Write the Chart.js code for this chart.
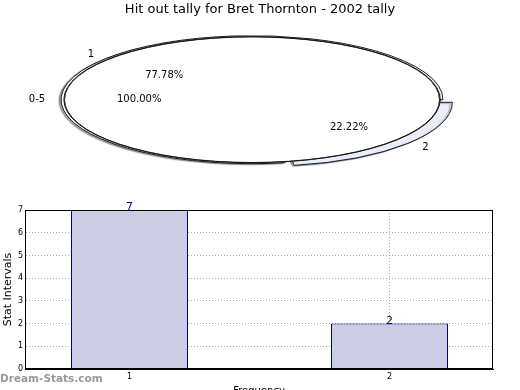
<!DOCTYPE html>
<html><head><meta charset="utf-8">
<script src="https://cdn.jsdelivr.net/npm/chart.js@4/dist/chart.umd.min.js"></script>
<style>
html,body{margin:0;padding:0;background:#fff;overflow:hidden;width:520px;height:390px}
#pie{position:absolute;left:0;top:0}
#bar{position:absolute;left:0;top:200px}
#wm{position:absolute;left:0;top:372px;font:bold 10.5px "DejaVu Sans";color:#999;white-space:nowrap}
</style></head><body>
<canvas id="pie" width="520" height="200"></canvas>
<canvas id="bar" width="520" height="200"></canvas>
<div id="wm">Dream-Stats.com</div>
<script>
// ---- data ----
const chartTitle = 'Hit out tally for Bret Thornton - 2002 tally';
const outerLabels = ['1', '2'];
const outerValues = [7, 2];
const innerLabels = ['0-5'];
const innerValues = [9];
const barCategories = [1, 2];
const barValues = [7, 2];
const xTickLabels = ['1', '2'];
const yTicks = [0, 1, 2, 3, 4, 5, 6, 7];
const xAxisTitle = 'Frequency';
const yAxisTitle = 'Stat Intervals';

// ---- pie (squashed) ----
const SQUASH = 0.335;
const FONT = 'DejaVu Sans';

const squashPlugin = {
  id: 'squash',
  beforeDatasetsDraw(chart) {
    const a = chart.getDatasetMeta(0).data[0];
    const ctx = chart.ctx;
    ctx.save();
    const base = ctx.getTransform();
    ctx.translate(a.x, a.y);
    ctx.scale(1, SQUASH);
    ctx.translate(-a.x, -a.y);
    const proto = CanvasRenderingContext2D.prototype.stroke;
    ctx.stroke = function () {
      this.save();
      this.setTransform(base);
      proto.apply(this, arguments);
      this.restore();
    };
  },
  beforeDatasetDraw(chart, args) {
    const ctx = chart.ctx;
    if (args.index === 0) {
      ctx.shadowColor = 'rgba(0,0,0,0.35)';
      ctx.shadowOffsetX = -2;
      ctx.shadowOffsetY = 1;
      ctx.shadowBlur = 1;
    }
  },
  afterDatasetDraw(chart) {
    const ctx = chart.ctx;
    ctx.shadowColor = 'rgba(0,0,0,0)';
    ctx.shadowOffsetX = 0; ctx.shadowOffsetY = 0; ctx.shadowBlur = 0;
  },
  afterDatasetsDraw(chart) {
    const ctx = chart.ctx;
    delete ctx.stroke;
    ctx.restore();
    ctx.save();
    ctx.font = '10px "' + FONT + '"';
    ctx.fillStyle = '#000';
    ctx.textBaseline = 'middle';
    chart.data.datasets.forEach((ds, di) => {
      if (!ds.sliceLabels) return;
      const meta = chart.getDatasetMeta(di);
      const total = ds.data.reduce((s, v) => s + v, 0);
      meta.data.forEach((arc, i) => {
        const R = arc.outerRadius;
        const mid = (arc.startAngle + arc.endAngle) / 2;
        const off = (arc.options.offset || 0) / 4;
        const c = Math.cos(mid), s = Math.sin(mid);
        const cx = arc.x + c * off, cy = arc.y + s * off * SQUASH;
        ctx.textAlign = c < -0.9 ? 'right' : (c < 0 ? 'center' : 'left');
        ctx.fillText(ds.sliceLabels[i], cx + c * R * 1.1, cy + s * R * 1.1 * SQUASH);
        ctx.textAlign = 'center';
        const pct = (ds.data[i] / total * 100).toFixed(2) + '%';
        ctx.fillText(pct, cx + c * R * 0.6, cy + s * R * 0.6 * SQUASH);
      });
    });
    ctx.restore();
  },
  afterDraw(chart) {
    const ctx = chart.ctx;
    ctx.save();
    ctx.font = '13px "' + FONT + '"';
    ctx.fillStyle = '#000';
    ctx.textAlign = 'center';
    ctx.textBaseline = 'middle';
    ctx.fillText(chartTitle, chart.width / 2, 10);
    ctx.restore();
  }
};

new Chart(document.getElementById('pie'), {
  type: 'pie',
  data: {
    labels: outerLabels,
    datasets: [
      { // outer ring (full wedges, mostly hidden under the inner pie)
        data: outerValues, sliceLabels: outerLabels,
        backgroundColor: ['#ffffff', '#e8eefa'],
        borderColor: '#1a1a1a', borderWidth: 1,
        offset: [0, 48], radius: 191, rotation: 170, order: 2, clip: false
      },
      { // inner pie fill
        data: innerValues, sliceLabels: innerLabels,
        backgroundColor: ['#ffffff'], borderWidth: 0,
        radius: 282, rotation: 90, order: 1, clip: false
      },
      { // inner pie outline
        data: innerValues,
        backgroundColor: ['#ffffff'], borderColor: '#1a1a1a', borderWidth: 1,
        radius: 189.5, cutout: '98.94%', rotation: 90, order: 0, clip: false
      }
    ]
  },
  options: {
    responsive: false, animation: false, events: [],
    layout: { padding: { left: 0, right: 16, top: 18.4, bottom: 19 } },
    plugins: { legend: { display: false }, tooltip: { enabled: false }, title: { display: false } }
  },
  plugins: [squashPlugin]
});

// ---- bar chart ----
const barLabelPlugin = {
  id: 'barLabels',
  afterDatasetsDraw(chart) {
    const ctx = chart.ctx;
    ctx.save();
    ctx.font = '11px "' + FONT + '"';
    ctx.fillStyle = '#000080';
    ctx.textAlign = 'center';
    ctx.textBaseline = 'alphabetic';
    chart.getDatasetMeta(0).data.forEach((bar, i) => {
      ctx.fillText(String(barValues[i]), bar.x, bar.y);
    });
    ctx.restore();
  },
  afterDraw(chart) {
    const a = chart.chartArea, ctx = chart.ctx;
    ctx.save();
    ctx.strokeStyle = '#000';
    ctx.lineWidth = 1;
    ctx.strokeRect(Math.round(a.left) + 0.5, Math.round(a.top) + 0.5,
      Math.round(a.right - a.left) - 1, Math.round(a.bottom - a.top) - 1);
    ctx.restore();
  }
};

new Chart(document.getElementById('bar'), {
  type: 'bar',
  data: {
    datasets: [{
      data: barCategories.map((c, i) => ({ x: c, y: barValues[i] })),
      backgroundColor: '#ccccE5', borderColor: '#000080', borderWidth: 1,
      barPercentage: 0.45, categoryPercentage: 1
    }]
  },
  options: {
    responsive: false, animation: false, events: [],
    layout: { padding: { left: 0, right: 27, top: 10, bottom: 0 } },
    plugins: { legend: { display: false }, tooltip: { enabled: false } },
    scales: {
      x: {
        type: 'linear', min: 0.598, max: 2.398, z: 1, offset: false,
        afterBuildTicks(s) { s.ticks = barCategories.map(v => ({ value: v })); },
        afterFit(s) { s.height = 31; },
        ticks: {
          color: '#000', font: { family: FONT, size: 8 }, padding: 3,
          callback: (v) => xTickLabels[barCategories.indexOf(v)]
        },
        grid: { color: '#aaaaaa', drawTicks: false, offset: false },
        border: { color: '#000', dash: [1, 2] },
        title: { display: true, text: xAxisTitle, color: '#000', font: { family: FONT, size: 10 }, padding: { top: 0, bottom: 3 } }
      },
      y: {
        min: 0, max: 7, z: 1,
        afterBuildTicks(s) { s.ticks = yTicks.map(v => ({ value: v })); },
        afterFit(s) { s.width = 25; },
        ticks: { color: '#000', font: { family: FONT, size: 8 }, padding: 2 },
        grid: { color: '#aaaaaa', drawTicks: false },
        border: { color: '#000', dash: [1, 2] },
        title: { display: true, text: yAxisTitle, color: '#000', font: { family: FONT, size: 11 }, padding: { top: 2, bottom: 0 } }
      }
    }
  },
  plugins: [barLabelPlugin]
});
</script>
</body></html>
